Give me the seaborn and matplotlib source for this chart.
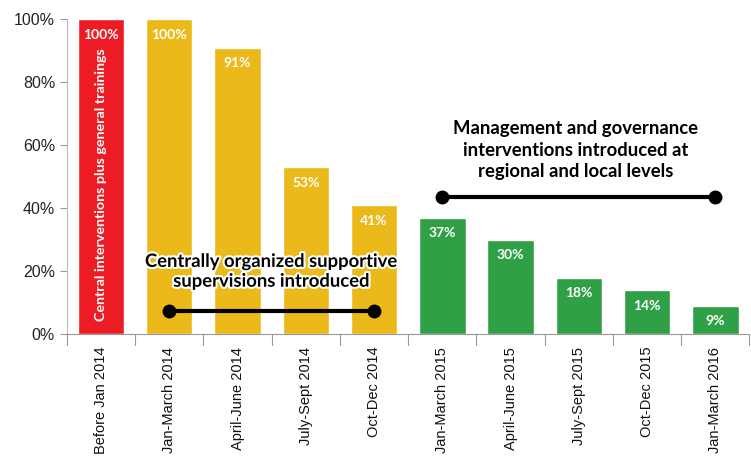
import matplotlib
matplotlib.use('Agg')
import matplotlib.pyplot as plt
import matplotlib.patheffects as pe
import seaborn as sns
import pandas as pd

periods = ['Before Jan 2014', 'Jan-March 2014', 'April-June 2014', 'July-Sept 2014', 'Oct-Dec 2014',
           'Jan-March 2015', 'April-June 2015', 'July-Sept 2015', 'Oct-Dec 2015', 'Jan-March 2016']
values = [100, 100, 91, 53, 41, 37, 30, 18, 14, 9]
phase = ['central', 'supervision', 'supervision', 'supervision', 'supervision',
         'management', 'management', 'management', 'management', 'management']
phase_colors = {'central': '#ED1C24', 'supervision': '#EBB91A', 'management': '#30A046'}

df = pd.DataFrame({'period': periods, 'value': values, 'phase': phase})

sns.set_style('white')
plt.rcParams['font.family'] = ['Liberation Sans', 'DejaVu Sans']

fig, ax = plt.subplots(figsize=(7.51, 4.63), dpi=100)
fig.subplots_adjust(left=0.089, right=0.998, top=0.958, bottom=0.278)

sns.barplot(data=df, x='period', y='value', hue='phase', palette=phase_colors,
            dodge=False, width=0.68, legend=False, ax=ax, saturation=1)

ax.set_ylim(0, 100)
ax.set_xlim(-0.5, len(periods) - 0.5)
ax.set_yticks([0, 20, 40, 60, 80, 100])
ax.set_yticklabels([f'{v}%' for v in [0, 20, 40, 60, 80, 100]], fontsize=11.5, color='#222222')
ax.set_xticks(range(len(periods)))
ax.set_xticklabels(periods, rotation=90, fontsize=10.5, color='#111111')
ax.tick_params(axis='x', length=0, pad=9)
ax.tick_params(axis='y', length=5, color='#999999', left=True, width=0.8)
ax.set_xlabel('')
ax.set_ylabel('')
for s in ['top', 'right']:
    ax.spines[s].set_visible(False)
ax.spines['left'].set_color('#BBBBBB')
ax.spines['bottom'].set_color('#999999')

# category boundary ticks on x axis
for b in range(len(periods) + 1):
    ax.plot([b - 0.5, b - 0.5], [0, -3.5], color='#999999', lw=0.8, clip_on=False)

bold = dict(family=['Lato', 'DejaVu Sans'], fontweight='bold')
for i, v in enumerate(values):
    ax.text(i, v - 3, f'{v}%', ha='center', va='top', color='white', fontsize=10, **bold)

ax.text(0, 47.5, 'Central interventions plus general trainings', rotation=90, ha='center',
        va='center', color='white', fontsize=10.3, **bold)

glow = [pe.withStroke(linewidth=3, foreground='white')]

ax.plot([1, 4], [7.5, 7.5], color='black', lw=3, marker='o', markersize=9)
ax.text(2.5, 20, 'Centrally organized supportive\nsupervisions introduced', ha='center',
        va='center', fontsize=13.3, color='black', linespacing=1.2, path_effects=glow, **bold)

ax.plot([5, 9], [43.5, 43.5], color='black', lw=3, marker='o', markersize=9)
ax.text(6.95, 58.5, 'Management and governance\ninterventions introduced at\nregional and local levels',
        ha='center', va='center', fontsize=13.3, color='black', linespacing=1.3, **bold)

fig.savefig('out.png', dpi=100)
